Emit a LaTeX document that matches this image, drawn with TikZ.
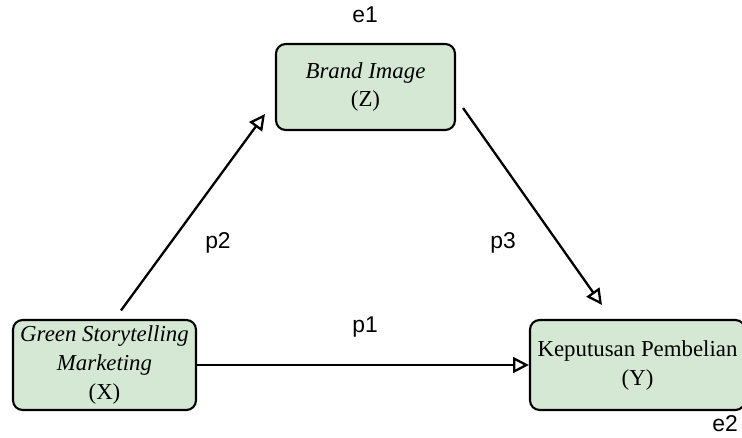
\documentclass[tikz,border=0pt]{standalone}
\usepackage{fontspec}
\setmainfont{Liberation Serif}
\setsansfont{Liberation Sans}
\usepackage{xcolor}
\usetikzlibrary{arrows.meta, positioning, calc}
\definecolor{varfill}{RGB}{213, 232, 212}

\begin{document}
\begin{tikzpicture}[
    varbox/.style={rectangle, rounded corners=5.5pt, draw=black, line width=1.2pt, fill=varfill, align=center, font=\fontsize{13}{16.5}\selectfont, inner sep=2pt},
    pathlabel/.style={font=\sffamily\fontsize{13}{15}\selectfont},
    arrowstyle/.style={-{Triangle[open, length=9pt, width=9pt]}, line width=1.3pt}
]
\useasboundingbox (0,0) rectangle (14.84,-8.74);

% Variables
\node[varbox, minimum width=3.66cm, minimum height=1.80cm] (green) at (2.09,-7.30) {\textit{Green Storytelling}\\\textit{Marketing}\\(X)};
\node[varbox, minimum width=3.58cm, minimum height=1.72cm] (brand) at (7.31,-1.74) {\textit{Brand Image}\\(Z)};
\node[varbox, minimum width=4.30cm, minimum height=1.80cm] (buy) at (12.75,-7.30) {Keputusan Pembelian\\(Y)};

% Error terms
\node[pathlabel] (e1) at (7.30,-0.30) {e1};
\node[pathlabel] (e2) at (14.50,-8.48) {e2};

% Paths
\draw[arrowstyle] ([xshift=0.33cm, yshift=0.17cm]green.north) -- ([xshift=-0.20cm, yshift=0.34cm]brand.south west);
\draw[arrowstyle] ([xshift=0.14cm, yshift=0.46cm]brand.south east) -- ([xshift=1.46cm, yshift=0.28cm]buy.north west);
\draw[arrowstyle] (green.east) -- (buy.west);

\node[pathlabel] (p1) at (7.30,-6.54) {p1};
\node[pathlabel] (p2) at (4.36,-4.86) {p2};
\node[pathlabel] (p3) at (10.06,-4.86) {p3};
\end{tikzpicture}
\end{document}
